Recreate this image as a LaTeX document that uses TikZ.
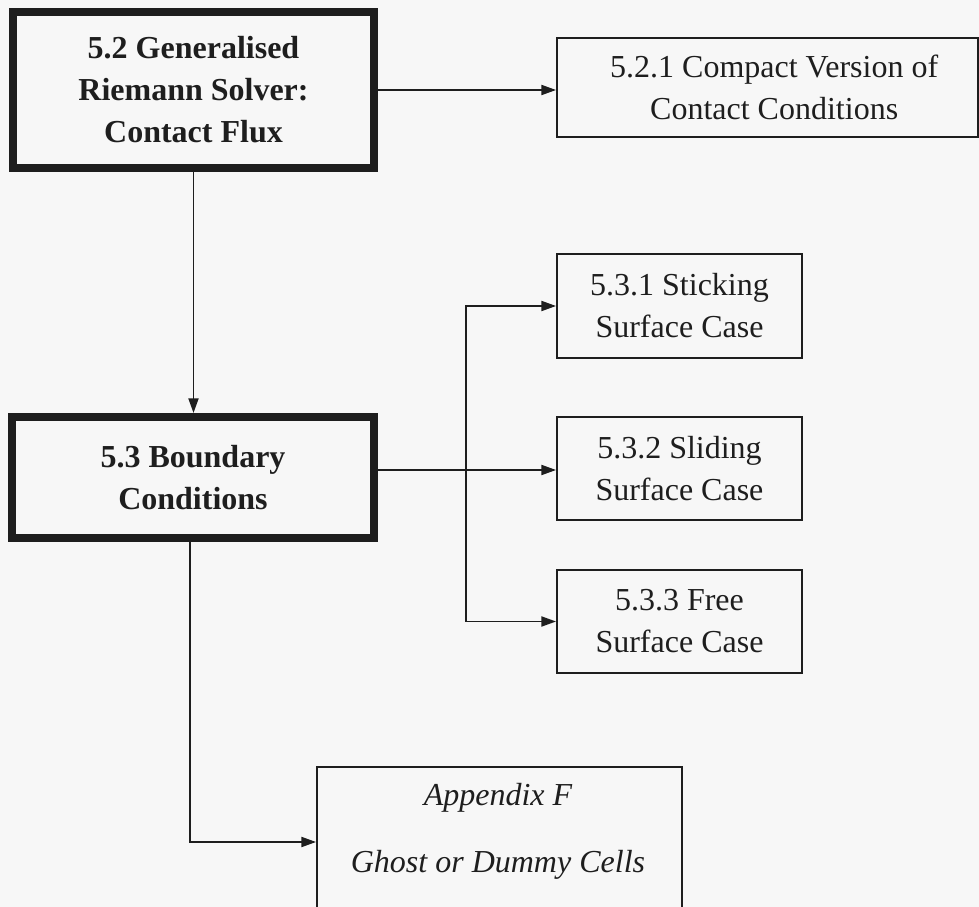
\documentclass[tikz,border=0pt]{standalone}
\usepackage{fontspec}
\setmainfont{Liberation Serif}
\usetikzlibrary{arrows.meta}
\definecolor{paper}{HTML}{F7F7F7}
\definecolor{ink}{HTML}{1E1E1E}
\tikzset{
  major/.style={draw=ink, line width=6pt, fill=paper, align=center,
    font=\fontsize{24}{31.5}\selectfont\bfseries, text=ink, inner sep=0pt},
  minor/.style={draw=ink, line width=1.4pt, fill=paper, align=center,
    font=\fontsize{24}{31.5}\selectfont, text=ink, inner sep=0pt},
  apptext/.style={align=center, font=\fontsize{24}{31.5}\selectfont\itshape,
    text=ink, inner sep=0pt},
  link/.style={draw=ink, line width=1.4pt,
    -{Triangle[length=11pt,width=7.5pt]}}
}
\begin{document}
\begin{tikzpicture}[x=0.75pt,y=-0.75pt]
  \fill[paper] (0,0) rectangle (979,907);
  \useasboundingbox (0,0) rectangle (979,907);
  \clip (0,0) rectangle (979,907);

  % main sections
  \node[major, minimum width=361*0.75pt, minimum height=156*0.75pt] (A) at (193.5,90)
    {5.2 Generalised\\Riemann Solver:\\Contact Flux};
  \node[major, minimum width=362*0.75pt, minimum height=121*0.75pt] (C) at (193,477.5)
    {5.3 Boundary\\Conditions};

  % subsections
  \node[minor, minimum width=421*0.75pt, minimum height=99*0.75pt] (B) at (767.5,87.5)
    {\hspace*{10pt}5.2.1 Compact Version of\\\hspace*{10pt}Contact Conditions};
  \node[minor, minimum width=245*0.75pt, minimum height=104*0.75pt] (D) at (679.5,306)
    {5.3.1 Sticking\\Surface Case};
  \node[minor, minimum width=245*0.75pt, minimum height=103*0.75pt] (E) at (679.5,468.5)
    {5.3.2 Sliding\\Surface Case};
  \node[minor, minimum width=245*0.75pt, minimum height=103*0.75pt] (F) at (679.5,621.5)
    {5.3.3 Free\\Surface Case};

  % appendix box, running off the lower edge
  \node[minor, minimum width=365*0.75pt, minimum height=170*0.75pt] (G) at (499.5,852) {};
  \node[apptext] (Gtext) at (498,831.5)
    {Appendix F\\[18.5pt]Ghost or Dummy Cells};

  % connectors
  \draw[link] (A.east) -- (A.east -| B.west);
  \draw[link] (A.south) -- (A.south |- C.north);
  \coordinate (jn) at (466,470);
  \draw[link] (jn -| C.east) -- (jn -| E.west);
  \draw[link] (jn) |- (D.west);
  \draw[link] (jn) |- (F.west);
  \draw[link] ([xshift=-2.25pt]C.south) |- ([yshift=7.5pt]G.west);
\end{tikzpicture}
\end{document}
